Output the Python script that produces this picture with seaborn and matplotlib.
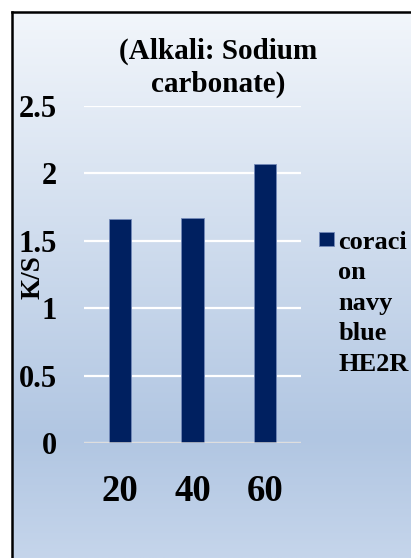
import numpy as np
import matplotlib
matplotlib.use("Agg")
import matplotlib.pyplot as plt
from matplotlib.patches import Rectangle
from matplotlib.legend_handler import HandlerPatch
import seaborn as sns

temps = ["20", "40", "60"]
ks_values = [1.66, 1.67, 2.07]
series_name = "coraci\non\nnavy\nblue\nHE2R"
y_ticks = [0, 0.5, 1, 1.5, 2, 2.5]
y_labels = ["0", "0.5", "1", "1.5", "2", "2.5"]

plt.rcParams['font.family'] = ['Liberation Serif', 'DejaVu Serif']
plt.rcParams['font.weight'] = 'bold'

W, H = 411, 558
fig = plt.figure(figsize=(W / 100, H / 100), dpi=100)

# gradient background inside the frame
bg = fig.add_axes([12 / W, 0, 1 - 12 / W, (H - 12) / H])
stops_y = [0.0, 0.78, 1.0]
top_c = np.array([242, 246, 251]) / 255
mid_c = np.array([177, 198, 226]) / 255
bot_c = np.array([197, 213, 235]) / 255
t = np.linspace(0, 1, 300)
grad = np.zeros((300, 1, 3))
for i in range(3):
    grad[:, 0, i] = np.interp(t, stops_y, [top_c[i], mid_c[i], bot_c[i]])
bg.imshow(grad, aspect='auto', extent=[0, 1, 0, 1], origin='upper')
bg.set_xticks([])
bg.set_yticks([])
for s in ['right', 'bottom']:
    bg.spines[s].set_visible(False)
for s in ['left', 'top']:
    bg.spines[s].set_color('black')
    bg.spines[s].set_linewidth(1.8)

ax = fig.add_axes([84 / W, (H - 443) / H, 217 / W, 337 / H])
ax.patch.set_alpha(0)
sns.barplot(x=temps, y=ks_values, color="#002060", width=0.31,
            edgecolor="#7389b8", linewidth=0.6, saturation=1,
            label=series_name, ax=ax)
ax.set_ylim(0, 2.5)
ax.set_yticks(y_ticks)
ax.set_yticklabels(y_labels)
ax.grid(axis='y', color='white', linewidth=1.6)
ax.set_axisbelow(True)
ax.axhline(0, color='#d4d4d4', linewidth=1.8, zorder=1)
for s in ax.spines.values():
    s.set_visible(False)
ax.tick_params(axis='both', length=0)
ax.tick_params(axis='y', labelsize=22, pad=19.5)
ax.tick_params(axis='x', labelsize=26.5, pad=22)
ax.set_xlabel("")
ax.set_ylabel("")

fig.text(33 / W, 1 - 277 / H, "K/S", rotation=90, ha='center', va='center',
         fontsize=19.5, fontweight='bold')
fig.text(218 / W, 1 - 68 / H, "(Alkali: Sodium\ncarbonate)", ha='center',
         va='center', fontsize=21, fontweight='bold', linespacing=1.3)


# legend square sits on the first text line, as in the original
def top_square(legend, orig_handle, xdescent, ydescent, width, height, fontsize):
    side = 0.55 * fontsize
    return Rectangle((-xdescent, -ydescent + 2 * 1.43 * fontsize * 0.83 + 1.2), side, side)


def from_first_bar(legend_handle, orig_handle):
    legend_handle.update_from(orig_handle.patches[0])


handles, labels = ax.get_legend_handles_labels()
leg = ax.legend(handles, labels, loc='upper left',
                bbox_to_anchor=(319 / W, 1 - 231 / H),
                bbox_transform=fig.transFigure, frameon=False,
                prop={'size': 19, 'weight': 'bold'},
                handlelength=0.53, handleheight=0.53, handletextpad=0.2,
                borderaxespad=0, borderpad=0,
                handler_map={type(handles[0]): HandlerPatch(patch_func=top_square,
                                                            update_func=from_first_bar)})
for txt in leg.get_texts():
    txt.set_linespacing(1.41)

fig.savefig("out.png", dpi=100)
